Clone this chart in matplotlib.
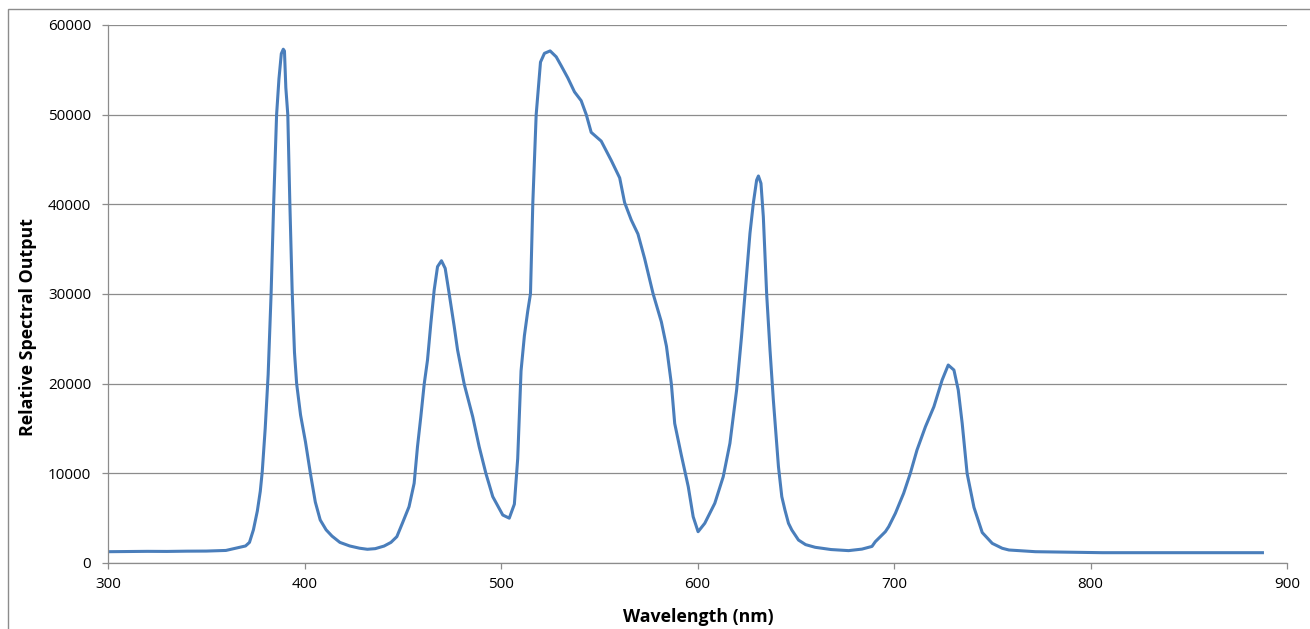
import matplotlib
matplotlib.use('Agg')
import matplotlib.pyplot as plt
from matplotlib.patches import Rectangle

plt.rcParams['font.family'] = ['Open Sans', 'DejaVu Sans']

# Data (wavelength in nm, relative output)
wavelength = [300, 310, 320, 330, 340, 350, 360, 364, 367, 370, 372, 374, 376,
              377.5, 378.5, 380, 381.5, 383, 384.3, 385.8, 387, 388.2, 389.2,
              389.8, 390.5, 391.5, 392.5, 393.7, 394.9, 396, 398, 400.5, 403,
              405.5, 408, 411, 414, 418, 423, 428, 432, 436, 440.5, 444, 447,
              449.8, 453.2, 455.8, 457.5, 459.2, 460.9, 462.6, 464.3, 466,
              467.7, 469.7, 471.6, 473.6, 476.2, 477.9, 481.3, 485.6, 488.9,
              492.3, 495.8, 500.9, 504.2, 506.8, 508.5, 510.2, 511.9, 513.6,
              515, 516.2, 517.9, 520.1, 522.1, 525, 528.1, 530.6, 534, 537.4,
              540.8, 543.4, 545.9, 551, 556.1, 560.4, 562.9, 566.3, 569.7,
              573.1, 577.4, 581.6, 584.2, 586.7, 588.4, 591.8, 595.3, 597.8,
              600.3, 603.7, 608.8, 613.1, 616.5, 619.9, 622.4, 624.6, 626.7,
              628.4, 630.1, 631, 632.3, 633.5, 635.2, 636.9, 638.6, 641.2,
              642.9, 644.5, 646.3, 648, 651.4, 655, 659.9, 668, 676.9, 683.7,
              688.8, 690.5, 695.6, 697.3, 700.7, 704.9, 708.3, 711.7, 716,
              720.3, 724.5, 727.6, 730.5, 732.7, 734.7, 737.2, 740.7, 744.9,
              750, 755.1, 758.5, 772, 790, 806, 830, 860, 887.5]
output = [1260, 1280, 1300, 1290, 1320, 1330, 1400, 1600, 1750, 1900, 2300,
          3700, 5800, 8000, 10200, 15000, 21000, 30000, 40000, 50000, 54000,
          56800, 57300, 57100, 53000, 50000, 40500, 30500, 23500, 20000, 16500,
          13500, 10000, 6800, 4800, 3700, 3000, 2300, 1900, 1650, 1530, 1600,
          1890, 2300, 2940, 4430, 6280, 8890, 12970, 16320, 19930, 22640,
          26730, 30450, 33050, 33710, 32860, 30080, 26360, 23750, 19930,
          16320, 12970, 10000, 7400, 5350, 5000, 6560, 11640, 21420, 25340,
          28080, 30030, 40200, 50000, 55860, 56840, 57110, 56450, 55470,
          54100, 52540, 51560, 50000, 48030, 47050, 44900, 42950, 40200,
          38250, 36690, 33950, 30030, 26900, 24170, 19970, 15560, 12000, 8510,
          5160, 3490, 4430, 6660, 9630, 13350, 19290, 25240, 31190, 36770,
          40110, 42710, 43160, 42340, 38620, 29970, 23750, 18180, 10740, 7400,
          5910, 4430, 3680, 2560, 2050, 1750, 1500, 1380, 1550, 1850, 2380,
          3490, 4050, 5540, 7770, 10000, 12600, 15200, 17430, 20410, 22080,
          21520, 19290, 15580, 10000, 6200, 3400, 2190, 1640, 1450, 1260, 1200,
          1150, 1150, 1140, 1150]

x_ticks = [300, 400, 500, 600, 700, 800, 900]
y_ticks = [0, 10000, 20000, 30000, 40000, 50000, 60000]

fig = plt.figure(figsize=(13.1, 6.29), dpi=100)
ax = fig.add_axes([108 / 1310, 66 / 629, 1179 / 1310, 538 / 629])

ax.plot(wavelength, output, color='#4a7ebb', linewidth=2.2,
        solid_joinstyle='round')

ax.set_xlim(300, 900)
ax.set_ylim(0, 60000)
ax.set_xticks(x_ticks)
ax.set_yticks(y_ticks)

ax.grid(axis='y', color='#8c8c8c', linewidth=0.9)
ax.set_axisbelow(True)
for side in ['top', 'right']:
    ax.spines[side].set_visible(False)
for side in ['left', 'bottom']:
    ax.spines[side].set_color('#8c8c8c')
    ax.spines[side].set_linewidth(0.9)

ax.tick_params(axis='both', direction='out', length=4, width=0.9,
               color='#8c8c8c', labelsize=11, labelcolor='black')
ax.tick_params(axis='y', pad=8)
ax.tick_params(axis='x', pad=6)

ax.set_xlabel('Wavelength (nm)', fontsize=12.8, fontweight='bold', va='center')
ax.set_ylabel('Relative Spectral Output', fontsize=12.8, fontweight='bold',
              va='center')
ax.xaxis.set_label_coords(0.501, -0.1)
ax.yaxis.set_label_coords(-0.068, 0.439)

# outer chart frame (cropped on right and bottom)
fig.patches.append(Rectangle((8 / 1310, -0.1), 1.2, 1.1 - 9 / 629,
                             transform=fig.transFigure, fill=False,
                             edgecolor='#8c8c8c', linewidth=1.0))

fig.savefig('out.png', dpi=100)
